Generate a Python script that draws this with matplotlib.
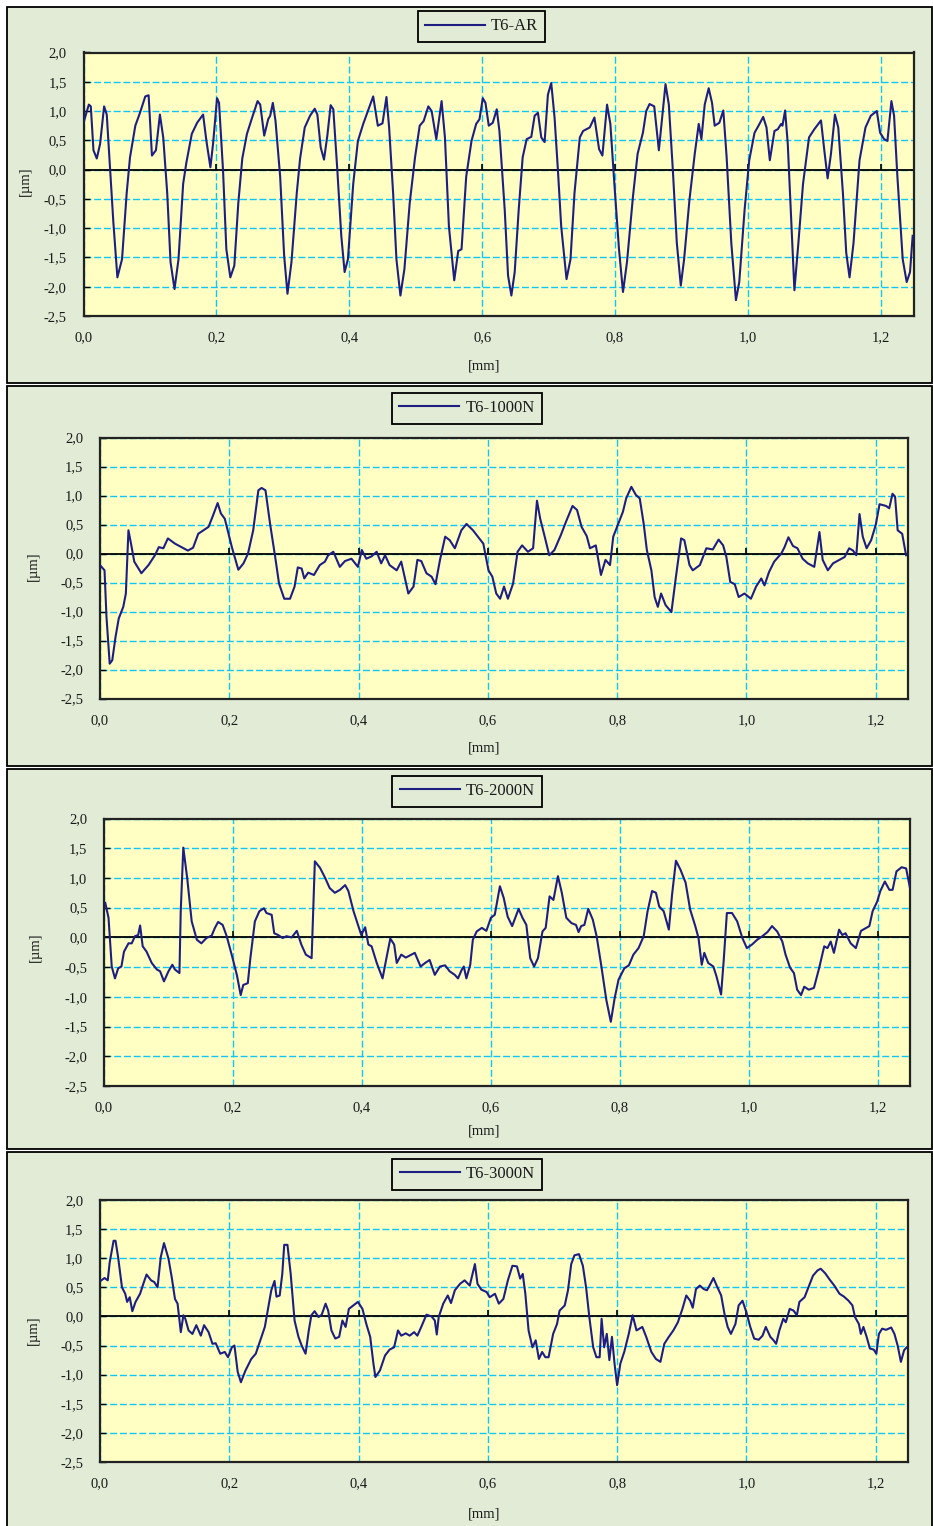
"""Surface roughness profiles of the T6 samples (as received and after
1000 N / 2000 N / 3000 N), four stacked panels in the old Excel look.

Run:
    python3 plot.py   -> out.png
"""

import matplotlib
matplotlib.use("Agg")
import matplotlib.pyplot as plt
from matplotlib.patches import Rectangle
from matplotlib.ticker import FixedLocator, FuncFormatter

plt.rcParams["font.family"] = ["Liberation Serif", "DejaVu Serif"]

# ---------------------------------------------------------------------------
# data: x in [mm], height in [um]
# ---------------------------------------------------------------------------
LABELS = ["T6-AR", "T6-1000N", "T6-2000N", "T6-3000N"]

AR_X = [
    0.000, 0.008, 0.011, 0.015, 0.020, 0.025, 0.031, 0.035, 0.040, 0.045,
    0.051, 0.058, 0.065, 0.070, 0.078, 0.085, 0.093, 0.098, 0.103, 0.109,
    0.115, 0.120, 0.126, 0.131, 0.137, 0.143, 0.150, 0.155, 0.163, 0.171,
    0.180, 0.185, 0.191, 0.195, 0.201, 0.204, 0.210, 0.215, 0.221, 0.227,
    0.233, 0.239, 0.246, 0.253, 0.262, 0.266, 0.272, 0.278, 0.281, 0.285,
    0.289, 0.296, 0.302, 0.307, 0.313, 0.321, 0.326, 0.333, 0.341, 0.348,
    0.352, 0.357, 0.362, 0.367, 0.372, 0.376, 0.382, 0.388, 0.393, 0.398,
    0.406, 0.413, 0.421, 0.428, 0.436, 0.443, 0.450, 0.456, 0.460, 0.466,
    0.471, 0.477, 0.483, 0.491, 0.499, 0.506, 0.512, 0.519, 0.524, 0.531,
    0.539, 0.544, 0.550, 0.558, 0.564, 0.569, 0.576, 0.584, 0.591, 0.596,
    0.601, 0.605, 0.610, 0.616, 0.622, 0.626, 0.634, 0.639, 0.644, 0.649,
    0.655, 0.661, 0.667, 0.674, 0.679, 0.684, 0.689, 0.694, 0.699, 0.704,
    0.709, 0.714, 0.719, 0.727, 0.733, 0.739, 0.747, 0.752, 0.762, 0.769,
    0.776, 0.781, 0.788, 0.793, 0.799, 0.806, 0.812, 0.818, 0.827, 0.834,
    0.842, 0.847, 0.852, 0.859, 0.866, 0.872, 0.876, 0.881, 0.887, 0.893,
    0.899, 0.904, 0.912, 0.920, 0.926, 0.930, 0.935, 0.941, 0.946, 0.950,
    0.957, 0.963, 0.968, 0.975, 0.982, 0.987, 0.995, 1.002, 1.010, 1.016,
    1.023, 1.028, 1.033, 1.040, 1.045, 1.050, 1.052, 1.056, 1.060, 1.065,
    1.070, 1.076, 1.083, 1.092, 1.100, 1.110, 1.115, 1.120, 1.125, 1.131,
    1.136, 1.143, 1.148, 1.153, 1.159, 1.168, 1.177, 1.185, 1.194, 1.199,
    1.205, 1.210, 1.216, 1.220, 1.225, 1.233, 1.239, 1.244, 1.248,
]
AR_Y = [
    0.80, 1.11, 1.08, 0.33, 0.19, 0.44, 1.08, 0.94, 0.00, -0.91,
    -1.84, -1.53, -0.40, 0.21, 0.75, 0.97, 1.25, 1.27, 0.24, 0.33,
    0.94, 0.55, -0.40, -1.58, -2.04, -1.53, -0.24, 0.13, 0.61, 0.80,
    0.94, 0.49, 0.04, 0.44, 1.22, 1.14, -0.01, -1.36, -1.84, -1.64,
    -0.57, 0.19, 0.61, 0.86, 1.17, 1.11, 0.58, 0.86, 0.92, 1.14,
    0.83, -0.12, -1.47, -2.12, -1.58, -0.40, 0.19, 0.72, 0.92, 1.04,
    0.94, 0.38, 0.17, 0.58, 1.10, 1.03, 0.00, -1.13, -1.75, -1.53,
    -0.24, 0.49, 0.78, 1.00, 1.25, 0.75, 0.79, 1.24, 0.72, -0.40,
    -1.53, -2.15, -1.70, -0.57, 0.21, 0.75, 0.83, 1.08, 1.00, 0.52,
    1.17, 0.55, -0.97, -1.89, -1.39, -1.36, -0.12, 0.49, 0.78, 0.86,
    1.22, 1.14, 0.75, 0.80, 1.03, 0.66, -0.69, -1.81, -2.15, -1.75,
    -0.69, 0.21, 0.52, 0.56, 0.92, 0.97, 0.55, 0.47, 1.28, 1.48,
    0.89, 0.00, -0.97, -1.87, -1.53, -0.40, 0.55, 0.66, 0.72, 0.89,
    0.35, 0.24, 1.11, 0.78, -0.24, -1.36, -2.09, -1.58, -0.46, 0.27,
    0.63, 1.00, 1.12, 1.08, 0.33, 1.00, 1.46, 1.11, 0.00, -1.25,
    -1.98, -1.53, -0.52, 0.27, 0.78, 0.52, 1.11, 1.39, 1.14, 0.75,
    0.80, 1.01, 0.21, -1.25, -2.23, -1.92, -0.69, 0.16, 0.63, 0.75,
    0.90, 0.72, 0.16, 0.66, 0.69, 0.78, 0.75, 1.01, 0.44, -0.80,
    -2.06, -1.25, -0.24, 0.55, 0.69, 0.84, 0.33, -0.15, 0.27, 0.94,
    0.72, -0.40, -1.42, -1.84, -1.25, 0.16, 0.72, 0.92, 1.00, 0.63,
    0.52, 0.49, 1.17, 0.92, -0.12, -1.53, -1.92, -1.75, -1.13,
]

N1000_X = [
    0.000, 0.007, 0.010, 0.015, 0.019, 0.024, 0.029, 0.036, 0.040, 0.044,
    0.048, 0.053, 0.064, 0.075, 0.085, 0.091, 0.098, 0.105, 0.116, 0.126,
    0.136, 0.144, 0.152, 0.160, 0.168, 0.175, 0.182, 0.187, 0.193, 0.204,
    0.214, 0.222, 0.229, 0.237, 0.245, 0.250, 0.256, 0.263, 0.271, 0.277,
    0.285, 0.294, 0.301, 0.306, 0.312, 0.316, 0.322, 0.331, 0.340, 0.348,
    0.353, 0.361, 0.371, 0.379, 0.389, 0.399, 0.405, 0.412, 0.420, 0.428,
    0.435, 0.441, 0.448, 0.459, 0.466, 0.477, 0.485, 0.491, 0.497, 0.505,
    0.513, 0.519, 0.526, 0.534, 0.541, 0.549, 0.559, 0.567, 0.577, 0.593,
    0.601, 0.607, 0.613, 0.619, 0.625, 0.631, 0.639, 0.646, 0.653, 0.662,
    0.670, 0.676, 0.681, 0.688, 0.695, 0.703, 0.713, 0.721, 0.731, 0.738,
    0.745, 0.753, 0.758, 0.767, 0.775, 0.782, 0.789, 0.794, 0.801, 0.809,
    0.814, 0.822, 0.829, 0.835, 0.841, 0.846, 0.853, 0.858, 0.863, 0.868,
    0.875, 0.884, 0.891, 0.899, 0.904, 0.912, 0.917, 0.928, 0.938, 0.948,
    0.957, 0.964, 0.969, 0.975, 0.982, 0.988, 0.997, 1.007, 1.015, 1.023,
    1.028, 1.035, 1.043, 1.054, 1.059, 1.065, 1.072, 1.079, 1.087, 1.095,
    1.105, 1.113, 1.118, 1.126, 1.134, 1.144, 1.152, 1.159, 1.165, 1.170,
    1.175, 1.180, 1.186, 1.193, 1.200, 1.206, 1.216, 1.221, 1.226, 1.230,
    1.234, 1.241, 1.247,
]
N1000_Y = [
    -0.20, -0.29, -1.09, -1.90, -1.84, -1.44, -1.12, -0.92, -0.69, 0.40,
    0.17, -0.14, -0.34, -0.20, -0.03, 0.11, 0.09, 0.26, 0.17, 0.11,
    0.05, 0.10, 0.34, 0.40, 0.46, 0.66, 0.87, 0.69, 0.60, 0.11,
    -0.28, -0.17, 0.00, 0.40, 1.09, 1.13, 1.09, 0.52, -0.06, -0.52,
    -0.78, -0.78, -0.57, -0.24, -0.26, -0.43, -0.33, -0.37, -0.20, -0.14,
    -0.03, 0.03, -0.23, -0.13, -0.09, -0.23, 0.06, -0.09, -0.05, 0.03,
    -0.17, -0.03, -0.20, -0.29, -0.14, -0.69, -0.57, -0.11, -0.13, -0.34,
    -0.40, -0.53, -0.11, 0.29, 0.23, 0.09, 0.40, 0.51, 0.40, 0.17,
    -0.29, -0.40, -0.69, -0.78, -0.57, -0.78, -0.52, 0.03, 0.14, 0.03,
    0.09, 0.91, 0.60, 0.29, -0.03, 0.06, 0.32, 0.55, 0.82, 0.75,
    0.46, 0.30, 0.09, 0.14, -0.37, -0.11, -0.20, 0.29, 0.49, 0.72,
    0.95, 1.15, 1.01, 0.95, 0.52, 0.06, -0.29, -0.75, -0.92, -0.69,
    -0.89, -1.01, -0.40, 0.26, 0.23, -0.20, -0.29, -0.20, 0.09, 0.07,
    0.24, 0.14, -0.06, -0.49, -0.53, -0.75, -0.69, -0.78, -0.57, -0.43,
    -0.55, -0.32, -0.14, 0.00, 0.11, 0.28, 0.13, 0.09, -0.09, -0.17,
    -0.23, 0.37, -0.11, -0.29, -0.17, -0.11, -0.06, 0.09, 0.05, -0.03,
    0.68, 0.29, 0.09, 0.23, 0.49, 0.85, 0.82, 0.78, 1.03, 0.98,
    0.40, 0.34, -0.03,
]

N2000_X = [
    0.002, 0.007, 0.012, 0.017, 0.022, 0.027, 0.031, 0.038, 0.043, 0.048,
    0.053, 0.056, 0.060, 0.066, 0.074, 0.082, 0.087, 0.093, 0.100, 0.106,
    0.110, 0.117, 0.119, 0.123, 0.129, 0.136, 0.144, 0.151, 0.159, 0.167,
    0.172, 0.177, 0.184, 0.190, 0.198, 0.206, 0.212, 0.216, 0.223, 0.227,
    0.234, 0.241, 0.248, 0.252, 0.260, 0.264, 0.270, 0.277, 0.283, 0.291,
    0.299, 0.306, 0.313, 0.322, 0.325, 0.327, 0.335, 0.343, 0.350, 0.358,
    0.366, 0.374, 0.379, 0.387, 0.394, 0.399, 0.405, 0.410, 0.415, 0.423,
    0.432, 0.438, 0.444, 0.450, 0.454, 0.461, 0.468, 0.475, 0.482, 0.491,
    0.498, 0.505, 0.513, 0.521, 0.529, 0.536, 0.544, 0.549, 0.555, 0.558,
    0.562, 0.568, 0.572, 0.578, 0.586, 0.593, 0.600, 0.606, 0.614, 0.620,
    0.626, 0.633, 0.643, 0.649, 0.655, 0.661, 0.667, 0.673, 0.680, 0.685,
    0.691, 0.697, 0.704, 0.710, 0.717, 0.725, 0.732, 0.736, 0.740, 0.745,
    0.751, 0.758, 0.764, 0.771, 0.779, 0.786, 0.792, 0.798, 0.807, 0.814,
    0.821, 0.829, 0.837, 0.843, 0.850, 0.856, 0.861, 0.868, 0.876, 0.881,
    0.887, 0.894, 0.902, 0.909, 0.917, 0.922, 0.927, 0.931, 0.937, 0.945,
    0.950, 0.957, 0.961, 0.966, 0.974, 0.982, 0.990, 0.997, 1.005, 1.013,
    1.021, 1.029, 1.036, 1.044, 1.052, 1.057, 1.064, 1.070, 1.075, 1.081,
    1.086, 1.093, 1.101, 1.109, 1.117, 1.122, 1.127, 1.132, 1.140, 1.145,
    1.150, 1.158, 1.166, 1.174, 1.182, 1.187, 1.192, 1.199, 1.204, 1.211,
    1.218, 1.223, 1.229, 1.237, 1.244, 1.250,
]
N2000_Y = [
    0.58, 0.33, -0.49, -0.69, -0.52, -0.49, -0.24, -0.10, -0.10, 0.02,
    0.04, 0.20, -0.15, -0.24, -0.43, -0.54, -0.57, -0.74, -0.57, -0.46,
    -0.54, -0.60, 0.44, 1.51, 1.00, 0.27, -0.04, -0.10, -0.01, 0.03,
    0.16, 0.26, 0.21, 0.03, -0.29, -0.63, -0.97, -0.80, -0.77, -0.35,
    0.27, 0.44, 0.49, 0.41, 0.38, 0.07, 0.04, -0.01, 0.02, 0.00,
    0.11, -0.12, -0.29, -0.35, 0.66, 1.28, 1.17, 1.00, 0.83, 0.75,
    0.80, 0.88, 0.78, 0.44, 0.21, 0.04, 0.17, -0.12, -0.15, -0.43,
    -0.69, -0.35, -0.02, -0.12, -0.43, -0.29, -0.34, -0.30, -0.26, -0.49,
    -0.43, -0.38, -0.63, -0.49, -0.47, -0.57, -0.63, -0.69, -0.54, -0.49,
    -0.69, -0.46, -0.04, 0.10, 0.16, 0.11, 0.33, 0.38, 0.86, 0.66,
    0.35, 0.19, 0.48, 0.33, 0.21, -0.35, -0.49, -0.35, 0.10, 0.16,
    0.69, 0.63, 1.03, 0.75, 0.33, 0.24, 0.21, 0.09, 0.19, 0.21,
    0.48, 0.30, 0.02, -0.46, -1.05, -1.42, -1.02, -0.71, -0.52, -0.47,
    -0.29, -0.18, 0.02, 0.44, 0.78, 0.75, 0.52, 0.44, 0.13, 0.72,
    1.29, 1.14, 0.92, 0.47, 0.19, -0.01, -0.46, -0.26, -0.43, -0.49,
    -0.66, -0.96, -0.40, 0.41, 0.41, 0.27, -0.01, -0.18, -0.12, -0.04,
    0.02, 0.09, 0.19, 0.10, -0.07, -0.29, -0.51, -0.60, -0.88, -0.97,
    -0.83, -0.88, -0.85, -0.52, -0.15, -0.18, -0.07, -0.26, 0.13, 0.04,
    0.07, -0.10, -0.18, 0.11, 0.16, 0.19, 0.44, 0.60, 0.78, 0.94,
    0.80, 0.80, 1.11, 1.18, 1.16, 0.83,
]

N3000_X = [
    0.002, 0.007, 0.012, 0.015, 0.021, 0.024, 0.028, 0.034, 0.039, 0.042,
    0.046, 0.050, 0.055, 0.062, 0.067, 0.072, 0.079, 0.084, 0.089, 0.094,
    0.099, 0.106, 0.111, 0.116, 0.120, 0.125, 0.129, 0.132, 0.137, 0.143,
    0.149, 0.156, 0.161, 0.168, 0.174, 0.179, 0.186, 0.193, 0.198, 0.204,
    0.208, 0.213, 0.218, 0.225, 0.234, 0.241, 0.249, 0.255, 0.260, 0.265,
    0.270, 0.273, 0.278, 0.282, 0.285, 0.290, 0.295, 0.301, 0.307, 0.312,
    0.318, 0.323, 0.327, 0.332, 0.338, 0.343, 0.349, 0.353, 0.358, 0.364,
    0.370, 0.375, 0.380, 0.385, 0.392, 0.399, 0.406, 0.412, 0.418, 0.423,
    0.426, 0.433, 0.441, 0.448, 0.455, 0.461, 0.466, 0.473, 0.479, 0.486,
    0.491, 0.497, 0.505, 0.513, 0.518, 0.521, 0.524, 0.531, 0.538, 0.543,
    0.549, 0.557, 0.564, 0.572, 0.580, 0.584, 0.590, 0.598, 0.603, 0.611,
    0.617, 0.624, 0.631, 0.638, 0.645, 0.650, 0.654, 0.658, 0.663, 0.669,
    0.674, 0.679, 0.684, 0.689, 0.694, 0.701, 0.707, 0.711, 0.719, 0.724,
    0.729, 0.734, 0.741, 0.747, 0.752, 0.757, 0.763, 0.768, 0.773, 0.776,
    0.780, 0.784, 0.788, 0.792, 0.796, 0.800, 0.805, 0.811, 0.818, 0.824,
    0.830, 0.839, 0.845, 0.853, 0.860, 0.867, 0.873, 0.880, 0.887, 0.894,
    0.901, 0.907, 0.913, 0.917, 0.922, 0.928, 0.934, 0.939, 0.943, 0.949,
    0.954, 0.961, 0.966, 0.971, 0.976, 0.983, 0.988, 0.994, 1.000, 1.006,
    1.012, 1.019, 1.025, 1.030, 1.037, 1.042, 1.046, 1.051, 1.057, 1.061,
    1.067, 1.073, 1.078, 1.082, 1.090, 1.097, 1.103, 1.110, 1.115, 1.122,
    1.129, 1.136, 1.144, 1.151, 1.158, 1.164, 1.168, 1.174, 1.177, 1.181,
    1.186, 1.191, 1.197, 1.201, 1.205, 1.210, 1.216, 1.224, 1.229, 1.234,
    1.239, 1.244, 1.248,
]
N3000_Y = [
    0.62, 0.66, 0.62, 0.93, 1.30, 1.30, 1.02, 0.50, 0.39, 0.25,
    0.33, 0.09, 0.25, 0.39, 0.56, 0.72, 0.62, 0.59, 0.50, 1.02,
    1.26, 0.99, 0.67, 0.30, 0.22, -0.27, 0.02, -0.04, -0.24, -0.30,
    -0.15, -0.33, -0.15, -0.27, -0.47, -0.46, -0.64, -0.61, -0.70, -0.53,
    -0.50, -0.95, -1.13, -0.93, -0.73, -0.64, -0.38, -0.18, 0.13, 0.45,
    0.61, 0.34, 0.36, 0.73, 1.23, 1.23, 0.73, -0.07, -0.35, -0.50,
    -0.64, -0.24, 0.02, 0.09, -0.01, 0.03, 0.22, 0.10, -0.24, -0.38,
    -0.35, -0.07, -0.18, 0.13, 0.19, 0.25, 0.13, -0.13, -0.35, -0.81,
    -1.04, -0.93, -0.67, -0.57, -0.53, -0.24, -0.33, -0.29, -0.33, -0.27,
    -0.33, -0.18, 0.03, 0.00, -0.07, -0.31, -0.01, 0.22, 0.36, 0.23,
    0.45, 0.56, 0.62, 0.53, 0.90, 0.56, 0.46, 0.42, 0.33, 0.39,
    0.22, 0.30, 0.62, 0.87, 0.86, 0.65, 0.73, 0.39, -0.24, -0.53,
    -0.41, -0.73, -0.61, -0.70, -0.70, -0.30, -0.13, 0.10, 0.19, 0.45,
    0.90, 1.05, 1.07, 0.87, 0.50, -0.01, -0.53, -0.70, -0.70, -0.04,
    -0.53, -0.30, -0.75, -0.35, -0.81, -1.18, -0.81, -0.61, -0.30, 0.02,
    -0.24, -0.18, -0.35, -0.61, -0.73, -0.78, -0.47, -0.35, -0.24, -0.10,
    0.13, 0.36, 0.27, 0.15, 0.47, 0.53, 0.47, 0.45, 0.53, 0.66,
    0.53, 0.36, 0.05, -0.18, -0.30, -0.13, 0.19, 0.27, 0.07, -0.18,
    -0.38, -0.40, -0.33, -0.18, -0.35, -0.41, -0.47, -0.24, -0.04, -0.10,
    0.13, 0.10, 0.02, 0.25, 0.33, 0.53, 0.70, 0.79, 0.82, 0.74,
    0.63, 0.53, 0.39, 0.34, 0.27, 0.19, -0.01, -0.13, -0.30, -0.18,
    -0.35, -0.55, -0.57, -0.64, -0.30, -0.21, -0.23, -0.19, -0.30, -0.50,
    -0.78, -0.58, -0.53,
]

SERIES = [(AR_X, AR_Y), (N1000_X, N1000_Y), (N2000_X, N2000_Y), (N3000_X, N3000_Y)]

X_TICKS = [0.0, 0.2, 0.4, 0.6, 0.8, 1.0, 1.2]
Y_TICKS = [-2.5, -2.0, -1.5, -1.0, -0.5, 0.0, 0.5, 1.0, 1.5, 2.0]

# ---------------------------------------------------------------------------
# layout, in pixels of the 933 x 1526 picture (left, top, right, bottom)
# ---------------------------------------------------------------------------
W, H = 933, 1526
FRAMES = [(7, 7, 932, 383), (7, 386, 932, 766), (7, 769, 932, 1149), (7, 1152, 932, 1532)]
AXES = [(83.5, 52.5, 914, 316), (100, 437.5, 908, 698.5),
        (104, 818.5, 910, 1086), (100, 1200, 908, 1462)]
LEGEND_AT = [(481.5, 26.5), (467, 408), (467, 791), (467, 1174)]
YLABEL_AT = [(25, 181), (33, 566), (35, 947), (33, 1330)]
XLABEL_AT = [(484, 366), (484, 748), (484, 1131), (484, 1514)]

GREEN = "#e1ebd6"
YELLOW = "#ffffc4"
CYAN = "#12c6f2"
NAVY = "#1e1e82"
TEXT = "#1a1a1a"


def comma(v, _pos=None):
    return f"{v:.1f}".replace(".", ",")


def to_axes(ax_box, px, py):
    l, t, r, b = ax_box
    return (px - l) / (r - l), (b - py) / (b - t)


def draw_panel(fig, i):
    l, t, r, b = FRAMES[i]
    fig.add_artist(Rectangle((l / W, 1 - b / H), (r - l) / W, (b - t) / H,
                             transform=fig.transFigure, facecolor=GREEN,
                             edgecolor="black", linewidth=1.3, zorder=-5))

    al, at, ar, ab = AXES[i]
    ax = fig.add_axes([al / W, 1 - ab / H, (ar - al) / W, (ab - at) / H])
    ax.set_facecolor(YELLOW)

    xs, ys = SERIES[i]
    ax.set_xlim(0, 1.25)
    ax.set_ylim(-2.5, 2.0)
    ax.xaxis.set_major_locator(FixedLocator(X_TICKS))
    ax.yaxis.set_major_locator(FixedLocator(Y_TICKS))
    ax.xaxis.set_major_formatter(FuncFormatter(comma))
    ax.yaxis.set_major_formatter(FuncFormatter(comma))

    ax.grid(True, color=CYAN, linestyle=(0, (5, 2)), linewidth=1.0)
    ax.set_axisbelow(True)
    ax.axhline(0, color="black", linewidth=1.3, zorder=2)
    # small category ticks sitting on the zero line, Excel style
    ax.plot(X_TICKS, [0] * len(X_TICKS), linestyle="none", marker=2,
            markersize=4, markeredgewidth=1.2, color="black", zorder=2)

    line, = ax.plot(xs, ys, color=NAVY, linewidth=1.5, zorder=3, label=LABELS[i])

    ax.tick_params(axis="y", direction="in", length=4, width=1.0,
                   pad=12, labelsize=10.5, labelcolor=TEXT)
    ax.tick_params(axis="x", length=0, pad=11, labelsize=10.5, labelcolor=TEXT)
    for sp in ax.spines.values():
        sp.set_color("#222222")
        sp.set_linewidth(1.6)

    ax.set_ylabel("[µm]", fontsize=10.5, color=TEXT, va="center")
    ax.yaxis.set_label_coords(*to_axes(AXES[i], *YLABEL_AT[i]))
    ax.set_xlabel("[mm]", fontsize=10.5, color=TEXT, va="center")
    ax.xaxis.set_label_coords(*to_axes(AXES[i], *XLABEL_AT[i]))

    cx, cy = LEGEND_AT[i]
    leg = ax.legend(handles=[line], loc="center", bbox_to_anchor=(cx / W, 1 - cy / H),
                    bbox_transform=fig.transFigure, fancybox=False, shadow=False,
                    edgecolor="black", facecolor=GREEN, framealpha=1,
                    fontsize=12, handlelength=3.6, handletextpad=0.35,
                    borderpad=0.45, borderaxespad=0)
    leg.get_frame().set_linewidth(1.3)
    for txt in leg.get_texts():
        txt.set_color(TEXT)
    return ax


def main():
    fig = plt.figure(figsize=(W / 100, H / 100), dpi=100)
    fig.patch.set_facecolor("white")
    for i in range(len(SERIES)):
        draw_panel(fig, i)
    fig.savefig("out.png", dpi=100, facecolor=fig.get_facecolor())
    plt.close(fig)


if __name__ == "__main__":
    main()
